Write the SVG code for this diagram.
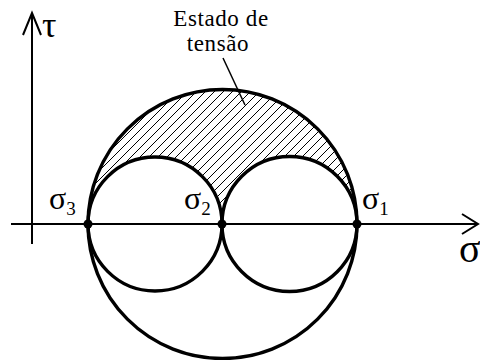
<svg xmlns="http://www.w3.org/2000/svg" width="480" height="360" viewBox="0 0 480 360">
<style>
.ax{stroke:#000;stroke-width:2;fill:none}
.circ{stroke:#000;stroke-width:3.4;fill:none}
.lbl{font-family:"Liberation Serif","Times New Roman",serif;fill:#000}
.hatch{stroke:#000;stroke-width:1}
</style>
<defs>
<pattern id="hp" patternUnits="userSpaceOnUse" width="9" height="9">
<path class="hatch" d="M-1,1 L1,-1 M0,9 L9,0 M8,10 L10,8"/>
</pattern>
</defs>
<rect width="480" height="360" fill="#fff"/>
<g id="hatched-region">
<path d="M88,224 A134.5,134.5 0 0 1 357,224 A67.5,67.5 0 0 0 222,224 A67,67 0 0 0 88,224 Z" fill="url(#hp)"/>
</g>
<g id="axes">
<line class="ax" x1="11" y1="224" x2="478" y2="224"/>
<polyline class="ax" points="462,214 478,224 462,234"/>
<line class="ax" x1="32" y1="244" x2="32" y2="14"/>
<polyline class="ax" points="23,35 32,13 41,35"/>
</g>
<g id="big-circle"><circle class="circ" cx="222.5" cy="224" r="134.5"/></g>
<g id="circle-left"><circle class="circ" cx="155" cy="224" r="67"/></g>
<g id="circle-right"><circle class="circ" cx="289.5" cy="224" r="67.5"/></g>
<g id="points">
<circle cx="88" cy="224" r="4.5"/>
<circle cx="222" cy="224" r="4.5"/>
<circle cx="357" cy="224" r="4.5"/>
</g>
<g id="connectors">
<line x1="223" y1="58" x2="245" y2="105" stroke="#000" stroke-width="1.5"/>
</g>
<g id="labels" class="lbl">
<text x="221" y="26" font-size="23" letter-spacing="0.6" text-anchor="middle">Estado de</text>
<text x="218" y="51" font-size="23" letter-spacing="0.6" text-anchor="middle">tensão</text>
<text x="42" y="37" font-size="36">τ</text>
<text x="49" y="209" font-size="32">σ<tspan font-size="19" dy="6">3</tspan></text>
<text x="184" y="209" font-size="32">σ<tspan font-size="19" dy="6">2</tspan></text>
<text x="362" y="209" font-size="32">σ<tspan font-size="19" dy="6">1</tspan></text>
<text x="459" y="262" font-size="40">σ</text>
</g>
</svg>
